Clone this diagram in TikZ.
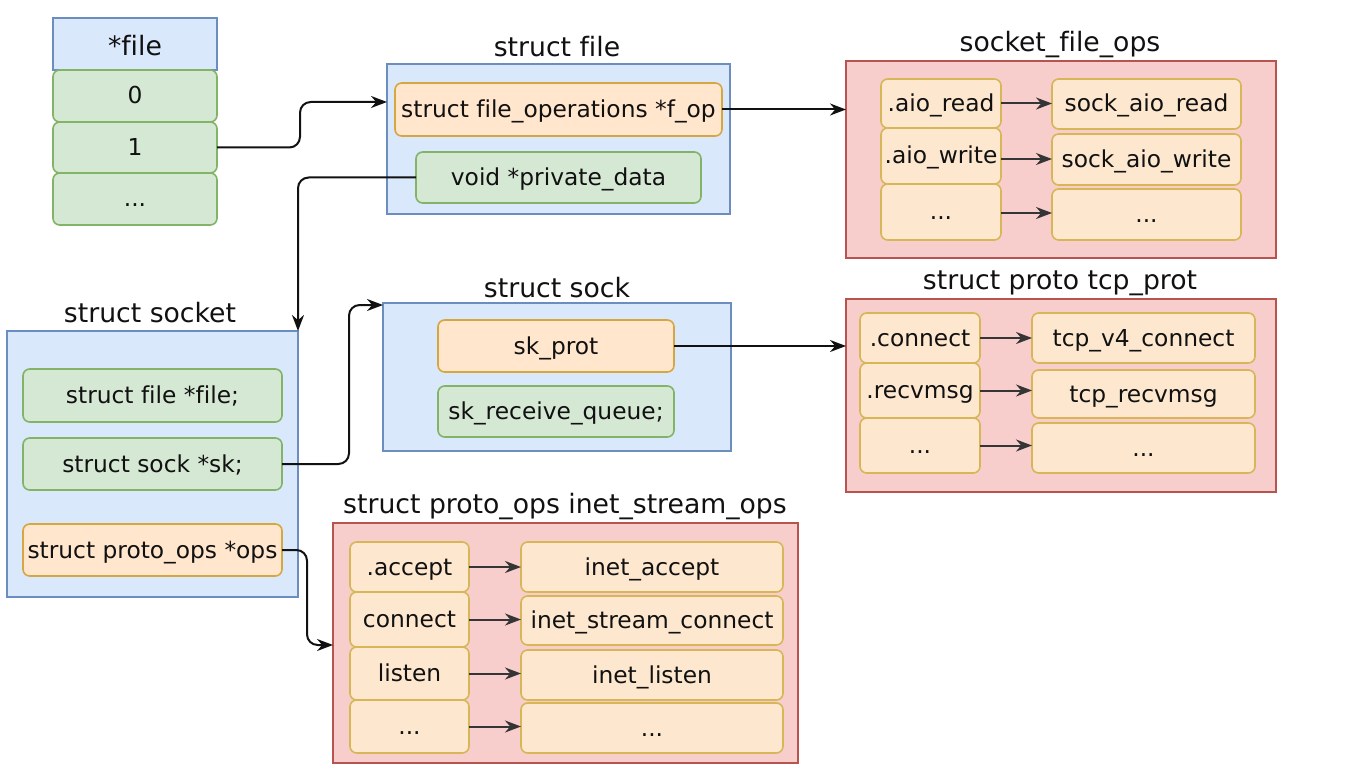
\documentclass[tikz,border=0pt]{standalone}
\usepackage{fontspec}
\setmainfont{DejaVu Sans}[Ligatures=NoCommon]
\usetikzlibrary{arrows.meta,calc}
\definecolor{blueF}{HTML}{DAE8FC}
\definecolor{blueD}{HTML}{6C8EBF}
\definecolor{greenF}{HTML}{D5E8D4}
\definecolor{greenD}{HTML}{82B366}
\definecolor{orangeF}{HTML}{FFE6CC}
\definecolor{orangeD}{HTML}{D6A640}
\definecolor{redF}{HTML}{F8CECC}
\definecolor{redD}{HTML}{B85450}
\definecolor{cellF}{HTML}{FDE8CF}
\definecolor{cellD}{HTML}{D6B656}
\definecolor{ink}{HTML}{111111}
\newcommand\mybox[7]{%
  \pgfmathsetmacro\bxcx{(#3+#5)/2}%
  \pgfmathsetmacro\bxcy{(#4+#6)/2}%
  \pgfmathsetmacro\bxww{(#5-#3)*0.75}%
  \pgfmathsetmacro\bxhh{(#6-#4)*0.75}%
  \node[#2, minimum width=\bxww pt, minimum height=\bxhh pt] (#1) at (\bxcx,\bxcy) {#7};}
\begin{document}
\begin{tikzpicture}[x=0.75pt,y=-0.75pt,
  base/.style={inner sep=0pt, outer sep=0pt, text=ink, font=\fontsize{17.5}{20}\selectfont,
    text height=15pt, text depth=3pt},
  bluebox/.style={base, draw=blueD, fill=blueF, line width=1.2pt},
  redbox/.style={base, draw=redD, fill=redF, line width=1.2pt},
  greencell/.style={base, draw=greenD, fill=greenF, line width=1.2pt, rounded corners=5pt},
  orangecell/.style={base, draw=orangeD, fill=orangeF, line width=1.2pt, rounded corners=5pt},
  opcell/.style={base, draw=cellD, fill=cellF, line width=1.2pt, rounded corners=5pt},
  hdrcell/.style={base, draw=blueD, fill=blueF, line width=1.2pt, font=\fontsize{20}{23}\selectfont,
    text height=20pt, text depth=2pt},
  title/.style={inner sep=0pt, text=ink, font=\fontsize{20}{23}\selectfont},
  conn/.style={draw=ink, line width=1.5pt, -{Stealth[length=12pt,width=9pt]}, rounded corners=8pt},
  opconn/.style={draw=ink!85, line width=1.5pt, -{Stealth[length=12pt,width=9pt]}}
]
\useasboundingbox (0,0) rectangle (1348,777);
\fill[white] (0,0) rectangle (1348,777);

% *file table
\mybox{hdr}{hdrcell}{53}{18}{217}{70}{*file}
\mybox{f0}{greencell}{53}{70}{217}{122}{0}
\mybox{f1}{greencell}{53}{122}{217}{173}{1}
\mybox{fd}{greencell}{53}{173}{217}{225}{...}

% struct file
\node[title] (tfile) at (557,47) {struct file};
\mybox{sfile}{bluebox}{387}{64}{730}{214}{}
\mybox{fop}{orangecell}{395}{83}{722}{136}{struct file\_operations *f\_op}
\mybox{pdata}{greencell}{416}{152}{701}{203}{void *private\_data}

% socket_file_ops
\node[title] (tsfops) at (1060,45) {socket\_file\_ops};
\mybox{sfops}{redbox}{846}{61}{1276}{258}{}
\mybox{ar}{opcell}{881}{79}{1001}{128}{.aio\_read}
\mybox{aw}{opcell}{881}{128}{1001}{184}{.aio\_write}
\mybox{ad}{opcell}{881}{184}{1001}{240}{...}
\mybox{sar}{opcell}{1052}{79}{1241}{129}{sock\_aio\_read}
\mybox{saw}{opcell}{1052}{134}{1241}{185}{sock\_aio\_write}
\mybox{sad}{opcell}{1052}{189}{1241}{240}{...}

% struct proto tcp_prot
\node[title] (ttcp) at (1060,283) {struct proto tcp\_prot};
\mybox{tcp}{redbox}{846}{299}{1276}{492}{}
\mybox{tc}{opcell}{860}{313}{980}{363}{.connect}
\mybox{tr}{opcell}{860}{363}{980}{418}{.recvmsg}
\mybox{td}{opcell}{860}{418}{980}{473}{...}
\mybox{rc}{opcell}{1032}{313}{1255}{363}{tcp\_v4\_connect}
\mybox{rr}{opcell}{1032}{370}{1255}{418}{tcp\_recvmsg}
\mybox{rd}{opcell}{1032}{423}{1255}{473}{...}

% struct socket
\node[title] (tsocket) at (150,313) {struct socket};
\mybox{socket}{bluebox}{7}{331}{298}{597}{}
\mybox{sf}{greencell}{23}{369}{282}{422}{struct file *file;}
\mybox{sk}{greencell}{23}{438}{282}{490}{struct sock *sk;}
\mybox{ops}{orangecell}{23}{524}{282}{576}{struct proto\_ops *ops}

% struct sock
\node[title] (tsock) at (557,288) {struct sock};
\mybox{sock}{bluebox}{383}{303}{731}{451}{}
\mybox{skprot}{orangecell}{438}{320}{674}{372}{sk\_prot}
\mybox{skq}{greencell}{438}{386}{674}{437}{sk\_receive\_queue;}

% struct proto_ops inet_stream_ops
\node[title] (tinet) at (565,507) {struct proto\_ops inet\_stream\_ops};
\mybox{inet}{redbox}{333}{523}{798}{763}{}
\mybox{ia}{opcell}{350}{542}{469}{592}{.accept}
\mybox{ic}{opcell}{350}{592}{469}{647}{connect}
\mybox{il}{opcell}{350}{647}{469}{700}{listen}
\mybox{id}{opcell}{350}{700}{469}{753}{...}
\mybox{ja}{opcell}{521}{542}{783}{592}{inet\_accept}
\mybox{jc}{opcell}{521}{596}{783}{645}{inet\_stream\_connect}
\mybox{jl}{opcell}{521}{650}{783}{700}{inet\_listen}
\mybox{jd}{opcell}{521}{703}{783}{753}{...}

% inner op arrows
\draw[opconn] (ar.east) -- (ar.east -| sar.west);
\draw[opconn] ($(aw.east)+(0,3)$) -- ($(aw.east -| saw.west)+(0,3)$);
\draw[opconn] ($(ad.east)+(0,1)$) -- ($(ad.east -| sad.west)+(0,1)$);
\draw[opconn] (tc.east) -- (tc.east -| rc.west);
\draw[opconn] (tr.east) -- (tr.east -| rr.west);
\draw[opconn] (td.east) -- (td.east -| rd.west);
\draw[opconn] (ia.east) -- (ia.east -| ja.west);
\draw[opconn] (ic.east) -- (ic.east -| jc.west);
\draw[opconn] (il.east) -- (il.east -| jl.west);
\draw[opconn] (id.east) -- (id.east -| jd.west);

% main connectors
\draw[conn] (f1.east) -- ++(83,0) |- ($(sfile.north west)+(0,38)$);
\draw[conn] (fop.east) -- (fop.east -| sfops.west);
\draw[conn] (pdata.west) -| (socket.north east);
\draw[conn] (sk.east) -- ++(67,0) |- ($(sock.north west)+(0,2)$);
\draw[conn] (skprot.east) -- (skprot.east -| tcp.west);
\draw[conn] (ops.east) -- ++(25,0) |- ($(inet.north west)+(0,122)$);
\end{tikzpicture}
\end{document}
